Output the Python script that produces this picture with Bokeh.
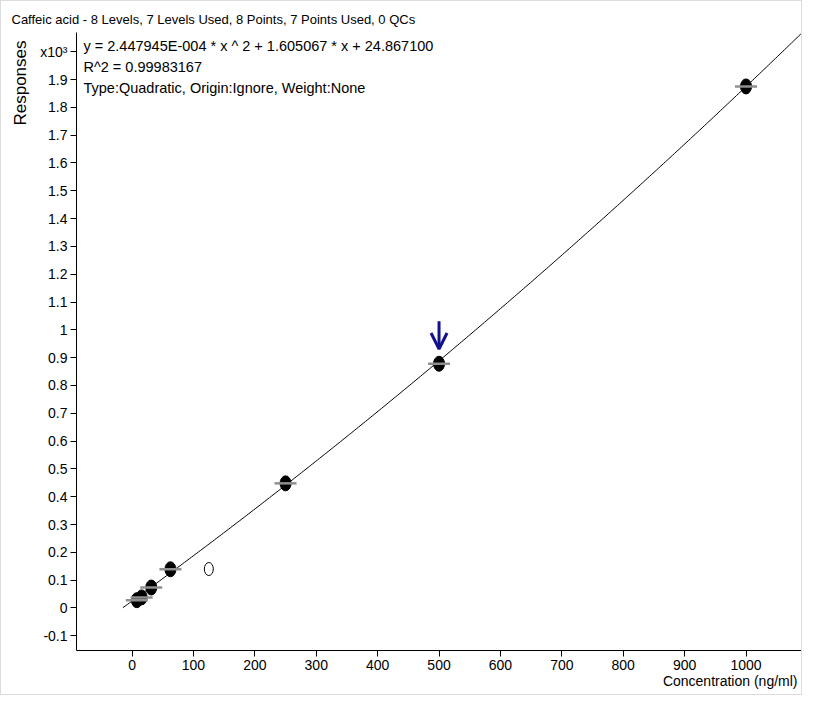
import numpy as np
from bokeh.plotting import figure
from bokeh.models import ColumnDataSource, FixedTicker, Label, Arrow, OpenHead, Range1d, Title
from bokeh.embed import file_html
from bokeh.resources import INLINE

FONT = "Liberation Sans"

# ---- data (responses in x10^3) ----
conc_used = [7.8125, 15.625, 31.25, 62.5, 250, 500, 1000]
resp_used = [0.028, 0.038, 0.0735, 0.139, 0.448, 0.878, 1.875]
conc_excluded = [125]
resp_excluded = [0.14]
marked_conc = 500
marked_resp = 0.878

# fitted quadratic (raw response units), as printed on the chart
coef_a = 2.447945e-4
coef_b = 1.605067
coef_c = 24.867100
curve_lo, curve_hi = -15, 1100

x_ticks = [0, 100, 200, 300, 400, 500, 600, 700, 800, 900, 1000]
y_ticks = [-0.1, 0.0, 0.1, 0.2, 0.3, 0.4, 0.5, 0.6, 0.7, 0.8, 0.9, 1.0,
           1.1, 1.2, 1.3, 1.4, 1.5, 1.6, 1.7, 1.8, 1.9, 2.0]
y_tick_labels = ["-0.1", "0", "0.1", "0.2", "0.3", "0.4", "0.5", "0.6", "0.7",
                 "0.8", "0.9", "1", "1.1", "1.2", "1.3", "1.4", "1.5", "1.6",
                 "1.7", "1.8", "1.9", "x10\u00b3"]

title_text = "Caffeic acid - 8 Levels, 7 Levels Used, 8 Points, 7 Points Used, 0 QCs"
eq_lines = ["y = 2.447945E-004 * x ^ 2  + 1.605067 * x  + 24.867100",
            "R^2 = 0.99983167",
            "Type:Quadratic, Origin:Ignore, Weight:None"]
x_label = "Concentration (ng/ml)"
y_label = "Responses"

# ---- figure ----
W, H = 802, 695
ML, MR, MT, MB = 72, 1, 31, 46
p = figure(width=W, height=H, output_backend="svg", toolbar_location=None,
           x_range=Range1d(-90.5, 1092), y_range=Range1d(-0.153, 2.069),
           min_border_left=ML, min_border_right=MR, min_border_top=MT,
           min_border_bottom=MB)
p.styles = {"border": "1px solid #dcdcdc"}
p.outline_line_color = None
p.grid.visible = False
p.background_fill_color = "white"
p.border_fill_color = "white"

p.title.text = title_text
p.title.align = "left"
p.title.offset = -(ML - 7)
p.title.text_font = FONT
p.title.text_font_size = "13px"
p.title.text_font_style = "normal"
p.title.text_color = "black"
p.title.standoff = 11

for ax in (p.xaxis[0], p.yaxis[0]):
    ax.axis_line_color = "black"
    ax.major_tick_line_color = "black"
    ax.major_tick_out = 6
    ax.major_tick_in = 0
    ax.minor_tick_line_color = None
    ax.major_label_text_font = FONT
    ax.major_label_text_font_size = "14px"
    ax.major_label_text_color = "black"

p.xaxis.ticker = FixedTicker(ticks=x_ticks)
p.xaxis.major_label_standoff = 3
p.yaxis.ticker = FixedTicker(ticks=y_ticks)
p.yaxis.major_label_overrides = {t: s for t, s in zip(y_ticks, y_tick_labels)}
p.yaxis.major_label_standoff = 3

p.add_layout(Title(text=y_label, align="right", offset=8, standoff=15,
                   text_font=FONT, text_font_size="17px", text_font_style="normal",
                   text_color="black"), "left")
p.add_layout(Title(text=x_label, align="right", offset=5, standoff=0,
                   vertical_align="top",
                   text_font=FONT, text_font_size="14px", text_font_style="normal",
                   text_color="black"), "below")

# fitted curve
cx = np.linspace(curve_lo, curve_hi, 300)
cy = (coef_a * cx ** 2 + coef_b * cx + coef_c) / 1000.0
p.line(cx, cy, line_color="black", line_width=1)

# used points
src = ColumnDataSource(dict(x=conc_used, y=resp_used))
p.ellipse("x", "y", width=11, height=15, width_units="screen", height_units="screen",
          source=src, fill_color="black", line_color="black")
p.scatter("x", "y", marker="dash", size=22, line_color="#8f8f8f", line_width=2.5,
          source=src)

# excluded point
p.ellipse(conc_excluded, resp_excluded, width=9, height=13, width_units="screen",
          height_units="screen", fill_color=None, line_color="black", line_width=1)

# arrow marking the selected level
p.add_layout(Arrow(x_start=marked_conc, y_start=marked_resp + 0.153,
                   x_end=marked_conc, y_end=marked_resp + 0.053,
                   line_color="#11118c", line_width=3,
                   end=OpenHead(size=16, line_color="#11118c", line_width=3)))

# equation text inside the plot area (screen units from frame bottom-left)
FH = H - MT - MB
for i, line in enumerate(eq_lines):
    p.add_layout(Label(x=7, y=FH - 13 - 21 * i, x_units="screen", y_units="screen",
                       text=line, text_font=FONT, text_font_size="14.5px",
                       text_baseline="middle", text_align="left", text_color="black"))

open("out.html", "w").write(file_html(p, INLINE))
